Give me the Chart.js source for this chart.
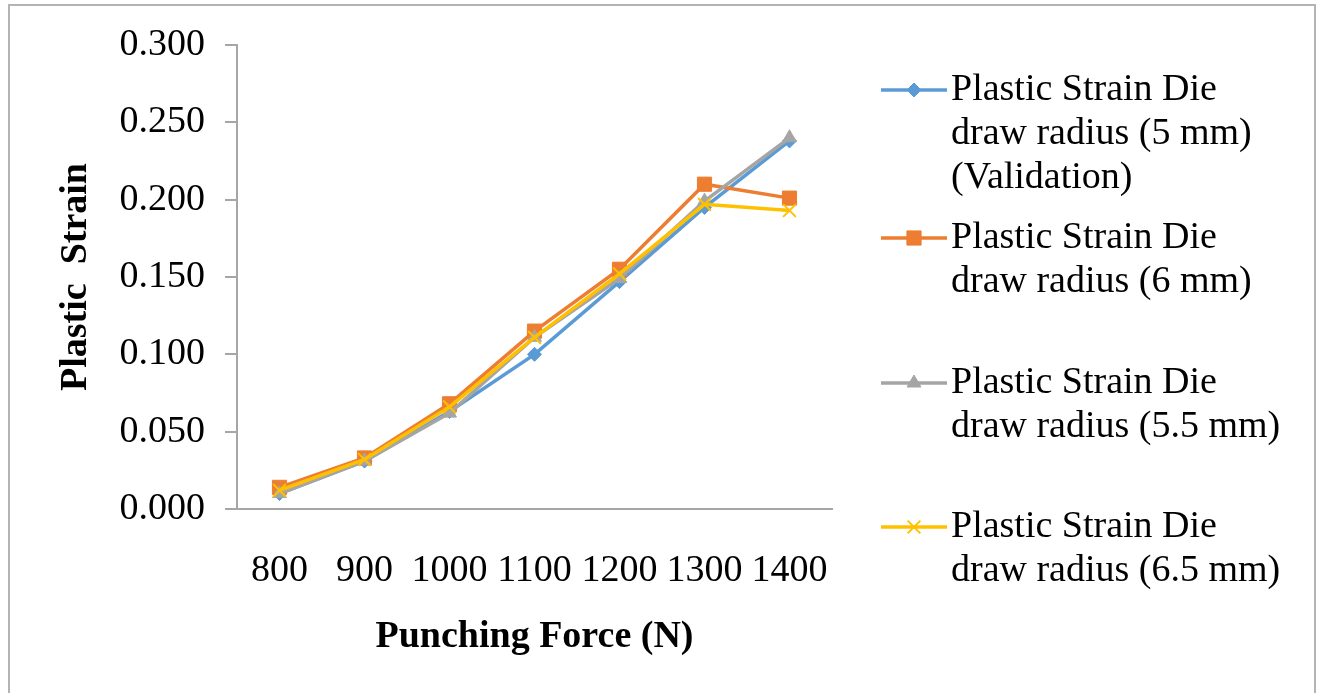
<!DOCTYPE html>
<html>
<head>
<meta charset="utf-8">
<script src="https://cdn.jsdelivr.net/npm/chart.js@4"></script>
<style>
  html, body { margin: 0; padding: 0; background: #fff; }
  #wrap { width: 1321px; height: 693px; position: relative; }
</style>
</head>
<body>
<div id="wrap"><canvas id="chart" width="1321" height="693"></canvas></div>
<script>
/* ---------- data ---------- */
const forces = ['800', '900', '1000', '1100', '1200', '1300', '1400'];

const strain5mm   = [0.010, 0.031, 0.063, 0.100, 0.147, 0.195, 0.238];
const strain6mm   = [0.014, 0.033, 0.068, 0.115, 0.155, 0.210, 0.201];
const strain55mm  = [0.010, 0.031, 0.062, 0.111, 0.149, 0.199, 0.240];
const strain65mm  = [0.012, 0.032, 0.066, 0.111, 0.152, 0.197, 0.193];

const legendLines = [
    ['Plastic Strain Die', 'draw radius (5 mm)', '(Validation)'],
    ['Plastic Strain Die', 'draw radius (6 mm)'],
    ['Plastic Strain Die', 'draw radius (5.5 mm)'],
    ['Plastic Strain Die', 'draw radius (6.5 mm)']
];

const FONT = "'Liberation Serif', 'Times New Roman', serif";
const AXIS_GRAY = '#a6a6a6';

/* ---------- plugins ---------- */

// outer frame like the Excel chart area
const framePlugin = {
    id: 'frame',
    beforeDraw(chart) {
        const ctx = chart.ctx;
        ctx.save();
        ctx.fillStyle = '#fff';
        ctx.fillRect(0, 0, chart.width, chart.height);
        ctx.strokeStyle = '#b4b4b4';
        ctx.lineWidth = 2;
        ctx.strokeRect(9, 5, 1306, 700);
        ctx.restore();
    }
};

// multi-line legend on the right side
const sideLegend = {
    id: 'sideLegend',
    afterDraw(chart) {
        const ctx = chart.ctx;
        const rowsY = [90, 238, 383, 527];
        ctx.save();
        chart.data.datasets.forEach((ds, i) => {
            const y = rowsY[i];
            ctx.strokeStyle = ds.borderColor;
            ctx.lineWidth = ds.borderWidth;
            ctx.beginPath();
            ctx.moveTo(881, y);
            ctx.lineTo(947, y);
            ctx.stroke();

            ctx.fillStyle = ds.pointBackgroundColor;
            ctx.strokeStyle = ds.pointBorderColor;
            ctx.lineWidth = ds.pointBorderWidth;
            Chart.helpers.drawPoint(ctx, {
                pointStyle: ds.pointStyle,
                radius: ds.pointRadius,
                borderWidth: ds.pointBorderWidth,
                rotation: 0
            }, 914, y);

            ctx.fillStyle = '#000';
            ctx.font = '38px ' + FONT;
            ctx.textAlign = 'left';
            ctx.textBaseline = 'middle';
            legendLines[i].forEach((line, j) => {
                ctx.fillText(line, 951, y + j * 44);
            });
        });
        ctx.restore();
    }
};

/* ---------- chart ---------- */

// Excel paints the last series on top, so order runs backwards
function makeSeries(label, data, color, style, radius, pbw, order) {
    return {
        label: label,
        data: data,
        borderColor: color,
        backgroundColor: color,
        pointBackgroundColor: color,
        pointBorderColor: color,
        borderWidth: 3.5,
        pointStyle: style,
        pointRadius: radius,
        pointHoverRadius: radius,
        pointBorderWidth: pbw,
        tension: 0,
        order: order
    };
}

new Chart(document.getElementById('chart'), {
    type: 'line',
    data: {
        labels: forces,
        datasets: [
            makeSeries('Plastic Strain Die draw radius (5 mm) (Validation)', strain5mm, '#5b9bd5', 'rectRot', 7, 1, 3),
            makeSeries('Plastic Strain Die draw radius (6 mm)', strain6mm, '#ed7d31', 'rect', 10, 1, 2),
            makeSeries('Plastic Strain Die draw radius (5.5 mm)', strain55mm, '#a5a5a5', 'triangle', 8, 1, 1),
            makeSeries('Plastic Strain Die draw radius (6.5 mm)', strain65mm, '#ffc000', 'crossRot', 9, 2, 0)
        ]
    },
    options: {
        responsive: false,
        animation: false,
        layout: {
            padding: { left: 0, top: 45, right: 489, bottom: 33 }
        },
        plugins: {
            legend: { display: false },
            tooltip: { enabled: false }
        },
        scales: {
            x: {
                offset: true,
                grid: { display: true, drawOnChartArea: false, drawTicks: false },
                border: { color: AXIS_GRAY, width: 2 },
                ticks: {
                    color: '#000',
                    font: { family: FONT, size: 38 },
                    padding: 39,
                    maxRotation: 0,
                    autoSkip: false
                },
                title: {
                    display: true,
                    text: 'Punching Force (N)',
                    color: '#000',
                    font: { family: FONT, size: 38, weight: 'bold' },
                    padding: { top: 0, bottom: 0 }
                },
                afterFit(scale) {
                    scale.height = 151;
                }
            },
            y: {
                min: 0,
                max: 0.3,
                grid: { display: true, drawOnChartArea: false, drawTicks: true, tickLength: 12, color: AXIS_GRAY, lineWidth: 2 },
                border: { color: AXIS_GRAY, width: 2 },
                ticks: {
                    stepSize: 0.05,
                    color: '#000',
                    font: { family: FONT, size: 38 },
                    padding: 20,
                    callback: v => v.toFixed(3)
                },
                title: {
                    display: true,
                    text: 'Plastic  Strain',
                    color: '#000',
                    font: { family: FONT, size: 38, weight: 'bold' },
                    padding: { top: 53, bottom: 0 }
                },
                afterFit(scale) {
                    scale.width = 237;
                }
            }
        }
    },
    plugins: [framePlugin, sideLegend]
});
</script>
</body>
</html>
